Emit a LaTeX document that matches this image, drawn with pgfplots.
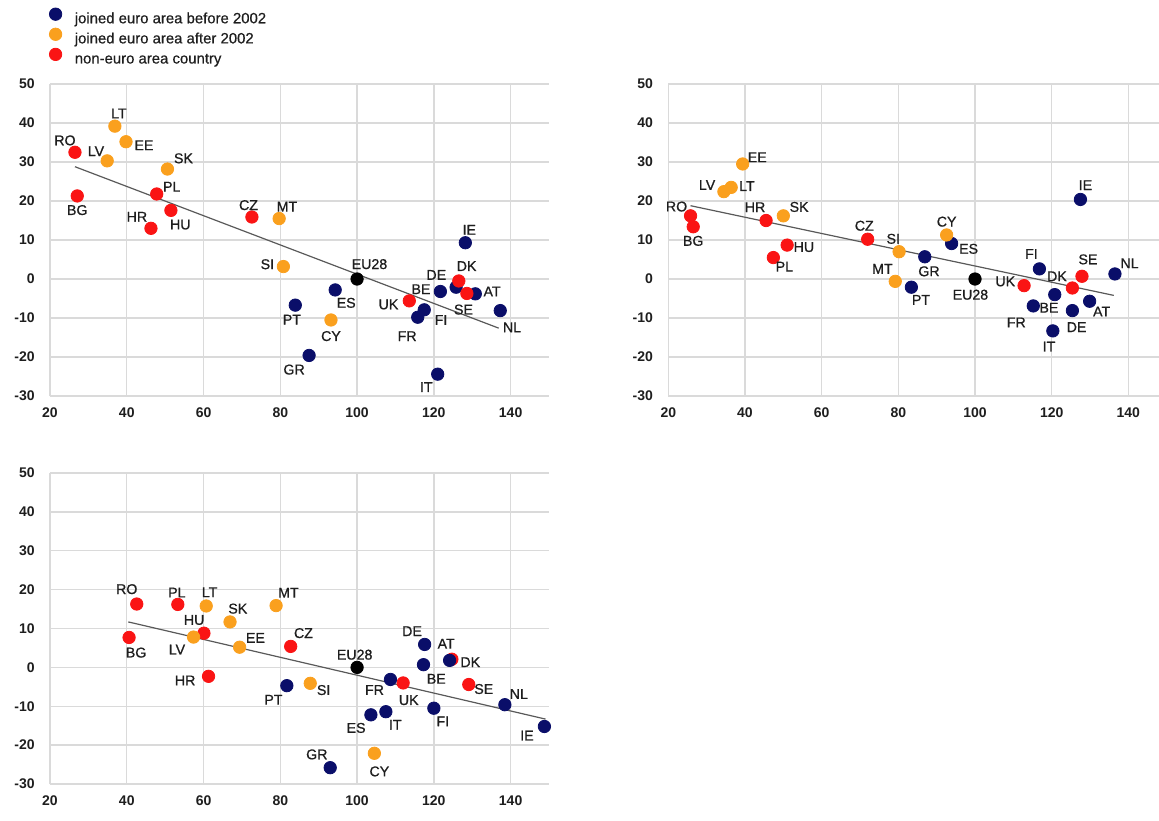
\documentclass[border=0pt]{standalone}
\usepackage{pgfplots}
\usepackage{pgfplotstable}
\pgfplotsset{compat=1.18}
\usepackage{fontspec}
\setmainfont{Liberation Sans}
\newfontfamily\lblfont{Liberation Sans}[FakeBold=0.8]
\newfontfamily\legfont{Liberation Sans}[FakeBold=0.5]
\definecolor{navyc}{RGB}{10,14,105}
\definecolor{orangec}{RGB}{250,160,30}
\definecolor{redc}{RGB}{250,20,20}
\definecolor{gridc}{RGB}{218,218,218}
\definecolor{txt}{RGB}{30,30,30}
% label placed dx pt right and dy pt up of its point (text centre)
\protected\def\lb#1#2#3{\makebox[0pt][c]{\hspace*{#1pt}\hspace*{#1pt}\raisebox{\dimexpr#2pt-2.5pt\relax}{#3}}}

% ---------- Panel 1 ----------
\pgfplotstableread{
x y lab
128.2 9.3 \lb{2}{6.5}{IE}
125.8 -2.1 \lb{-9.9}{6.2}{DE}
121.7 -3.2 \lb{-9.7}{1.2}{BE}
130.8 -3.8 \lb{8.4}{1.2}{AT}
117.5 -7.9 \lb{8.4}{-5}{FI}
115.8 -9.8 \lb{-5.3}{-9.4}{FR}
137.3 -8.1 \lb{5.9}{-8.3}{NL}
94.3 -2.8 \lb{5.5}{-6.4}{ES}
83.9 -6.7 \lb{-1.7}{-7.2}{PT}
87.5 -19.6 \lb{-7.5}{-7}{GR}
121.0 -24.4 \lb{-5.7}{-6.4}{IT}
}\pAnavy
\pgfplotstableread{
x y lab
36.9 39.2 \lb{2}{6.4}{LT}
34.9 30.3 \lb{-5.6}{4.9}{LV}
39.8 35.2 \lb{9}{-1.7}{EE}
50.6 28.2 \lb{8}{5.4}{SK}
79.7 15.5 \lb{3.9}{6}{MT}
80.8 3.2 \lb{-8}{1.2}{SI}
93.2 -10.5 \lb{0}{-8}{CY}
}\pAorange
\pgfplotstableread{
x y lab
26.5 32.5 \lb{-5}{6}{RO}
27.1 21.3 \lb{0}{-7}{BG}
47.8 21.8 \lb{7.5}{3.7}{PL}
51.5 17.6 \lb{4.7}{-7}{HU}
46.3 13.0 \lb{-7}{5.8}{HR}
72.6 15.9 \lb{-1.7}{6}{CZ}
126.5 -0.5 \lb{3.9}{7.5}{DK}
128.6 -3.7 \lb{-1.7}{-8}{SE}
113.6 -5.6 \lb{-10.4}{-1.7}{UK}
}\pAred
\pgfplotstableread{
x y lab
100 0 \lb{6.2}{7.5}{EU28}
}\pAeu
\pgfplotstableread{
x y
26.5 28.8
136.9 -12.6
}\pAtrend

% ---------- Panel 2 ----------
\pgfplotstableread{
x y lab
127.5 20.4 \lb{2.5}{7.2}{IE}
93.9 9.1 \lb{8.5}{-2.6}{ES}
86.9 5.7 \lb{2.1}{-7.2}{GR}
83.4 -2.1 \lb{4.8}{-6.3}{PT}
116.8 2.6 \lb{-4}{7.5}{FI}
136.5 1.3 \lb{7.3}{5.4}{NL}
120.8 -4.0 \lb{-2.9}{-6.5}{BE}
115.2 -6.9 \lb{-8.5}{-8.2}{FR}
125.4 -8.1 \lb{2.1}{-8.2}{DE}
129.9 -5.7 \lb{6}{-5.1}{AT}
120.3 -13.3 \lb{-1.9}{-7.8}{IT}
}\pBnavy
\pgfplotstableread{
x y lab
39.4 29.5 \lb{7.3}{3.4}{EE}
34.5 22.4 \lb{-8.4}{3.4}{LV}
36.4 23.5 \lb{7.9}{0.7}{LT}
50.0 16.2 \lb{7.9}{4.5}{SK}
80.2 7.0 \lb{-2.9}{6.5}{SI}
79.2 -0.6 \lb{-6.4}{6.3}{MT}
92.6 11.3 \lb{0}{6.7}{CY}
}\pBorange
\pgfplotstableread{
x y lab
25.8 16.2 \lb{-7}{4.7}{RO}
26.5 13.4 \lb{0}{-7}{BG}
45.5 15.0 \lb{-5.5}{6.7}{HR}
51.0 8.7 \lb{8.4}{-0.9}{HU}
47.4 5.5 \lb{5.5}{-4.5}{PL}
72.0 10.2 \lb{-1.7}{6.8}{CZ}
112.8 -1.7 \lb{-9.4}{2.2}{UK}
125.4 -2.3 \lb{-7.7}{5.9}{DK}
127.9 0.7 \lb{3}{8.5}{SE}
}\pBred
\pgfplotstableread{
x y lab
100 0 \lb{-2.3}{-7.8}{EU28}
}\pBeu
\pgfplotstableread{
x y
25.8 18.8
136.2 -4.2
}\pBtrend

% ---------- Panel 3 ----------
\pgfplotstableread{
x y lab
117.6 5.9 \lb{-6.3}{6.7}{DE}
124.1 1.8 \lb{-1.7}{8.4}{AT}
117.3 0.7 \lb{6.4}{-7}{BE}
108.7 -3.1 \lb{-8}{-5.2}{FR}
138.5 -9.6 \lb{7}{5.4}{NL}
120.0 -10.5 \lb{4.5}{-6.5}{FI}
148.8 -15.2 \lb{-8.7}{-4.5}{IE}
103.6 -12.2 \lb{-7.4}{-6.5}{ES}
107.5 -11.4 \lb{4.7}{-6.5}{IT}
93.0 -25.8 \lb{-6.7}{6.7}{GR}
81.7 -4.7 \lb{-6.7}{-7}{PT}
}\pCnavy
\pgfplotstableread{
x y lab
60.7 15.8 \lb{1.7}{6.9}{LT}
78.9 15.9 \lb{6.2}{6.5}{MT}
66.9 11.7 \lb{3.9}{6.7}{SK}
57.4 7.8 \lb{-8.3}{-6.2}{LV}
69.4 5.2 \lb{7.9}{4.7}{EE}
87.8 -4.1 \lb{6.7}{-3.3}{SI}
104.5 -22.1 \lb{2.5}{-9}{CY}
}\pCorange
\pgfplotstableread{
x y lab
42.6 16.3 \lb{-5}{7.5}{RO}
53.3 16.2 \lb{-0.5}{6}{PL}
60.1 8.8 \lb{-4.9}{6.7}{HU}
40.6 7.7 \lb{3.5}{-7.5}{BG}
61.3 -2.3 \lb{-11.7}{-2}{HR}
82.7 5.4 \lb{6.4}{6.7}{CZ}
124.7 2.1 \lb{9.2}{-1.4}{DK}
112.0 -4.0 \lb{2.8}{-8.5}{UK}
129.1 -4.4 \lb{7.5}{-2.2}{SE}
}\pCred
\pgfplotstableread{
x y lab
100 0 \lb{-1.2}{6.4}{EU28}
}\pCeu
\pgfplotstableread{
x y
40.4 11.7
149.1 -13.3
}\pCtrend

\pgfplotsset{
  panel/.style={
    scale only axis, clip=false,
    xmin=20, ymin=-30, ymax=50,
    xtick={20,40,60,80,100,120,140}, ytick={-30,-20,-10,0,10,20,30,40,50},
    xticklabels={20,40,60,80,100,120,140},
    yticklabels={-30,-20,-10,0,10,20,30,40,50},
    grid=major, major grid style={gridc, line width=0.65pt},
    axis line style={draw=none}, major tick length=0pt,
    tick label style={font=\fontsize{7}{8}\selectfont\bfseries, text=txt},
    xticklabel style={anchor=north, inner sep=0pt, yshift=-5.5pt},
    yticklabel style={anchor=east, inner sep=0pt, xshift=-7.5pt},
  },
  pts/.style={only marks, mark=*, mark size=3.1pt, color=#1, forget plot,
    nodes near coords, point meta=explicit symbolic,
    every node near coord/.append style={anchor=base, inner sep=0pt,
      font=\lblfont\fontsize{7.1}{8}\selectfont, text=txt}},
  trend/.style={no marks, color=black!65, line width=0.6pt, forget plot},
}

\begin{document}
\begin{tikzpicture}
\path[use as bounding box] (0,0) rectangle (579.5pt,-410pt);

\begin{axis}[panel, at={(25pt,-198pt)}, anchor=south west,
  width=249.5pt, height=156pt, xmax=150,
  legend style={at={(axis description cs:-0.002,1.245)}, anchor=north west,
    draw=none, fill=none, inner sep=0pt, font=\legfont\fontsize{7.45}{8}\selectfont, text=txt,
    row sep=0.9pt, column sep=6.5pt,
    nodes={inner sep=0pt, text height=5pt, text depth=1.5pt}},
  legend cell align=left,
  legend image code/.code={\draw[mark repeat=2,mark phase=2,#1] plot coordinates {(0pt,2.8pt)(3pt,2.8pt)(6pt,2.8pt)};},
]
\addlegendimage{only marks, mark=*, mark size=3.1pt, color=navyc}
\addlegendentry{joined euro area before 2002}
\addlegendimage{only marks, mark=*, mark size=3.1pt, color=orangec}
\addlegendentry{joined euro area after 2002}
\addlegendimage{only marks, mark=*, mark size=3.1pt, color=redc}
\addlegendentry{non-euro area country}
\addplot[trend] table[x=x,y=y] {\pAtrend};
\addplot[pts=navyc] table[x=x,y=y,meta=lab] {\pAnavy};
\addplot[pts=orangec] table[x=x,y=y,meta=lab] {\pAorange};
\addplot[pts=redc] table[x=x,y=y,meta=lab] {\pAred};
\addplot[pts=black] table[x=x,y=y,meta=lab] {\pAeu};
\end{axis}

\begin{axis}[panel, at={(334.15pt,-198pt)}, anchor=south west,
  width=245.35pt, height=156pt, xmax=148]
\addplot[trend] table[x=x,y=y] {\pBtrend};
\addplot[pts=navyc] table[x=x,y=y,meta=lab] {\pBnavy};
\addplot[pts=orangec] table[x=x,y=y,meta=lab] {\pBorange};
\addplot[pts=redc] table[x=x,y=y,meta=lab] {\pBred};
\addplot[pts=black] table[x=x,y=y,meta=lab] {\pBeu};
\end{axis}

\begin{axis}[panel, at={(25pt,-392pt)}, anchor=south west,
  width=249.5pt, height=155.5pt, xmax=150]
\addplot[trend] table[x=x,y=y] {\pCtrend};
\addplot[pts=redc] table[x=x,y=y,meta=lab] {\pCred};
\addplot[pts=orangec] table[x=x,y=y,meta=lab] {\pCorange};
\addplot[pts=navyc] table[x=x,y=y,meta=lab] {\pCnavy};
\addplot[pts=black] table[x=x,y=y,meta=lab] {\pCeu};
\end{axis}
\end{tikzpicture}
\end{document}
